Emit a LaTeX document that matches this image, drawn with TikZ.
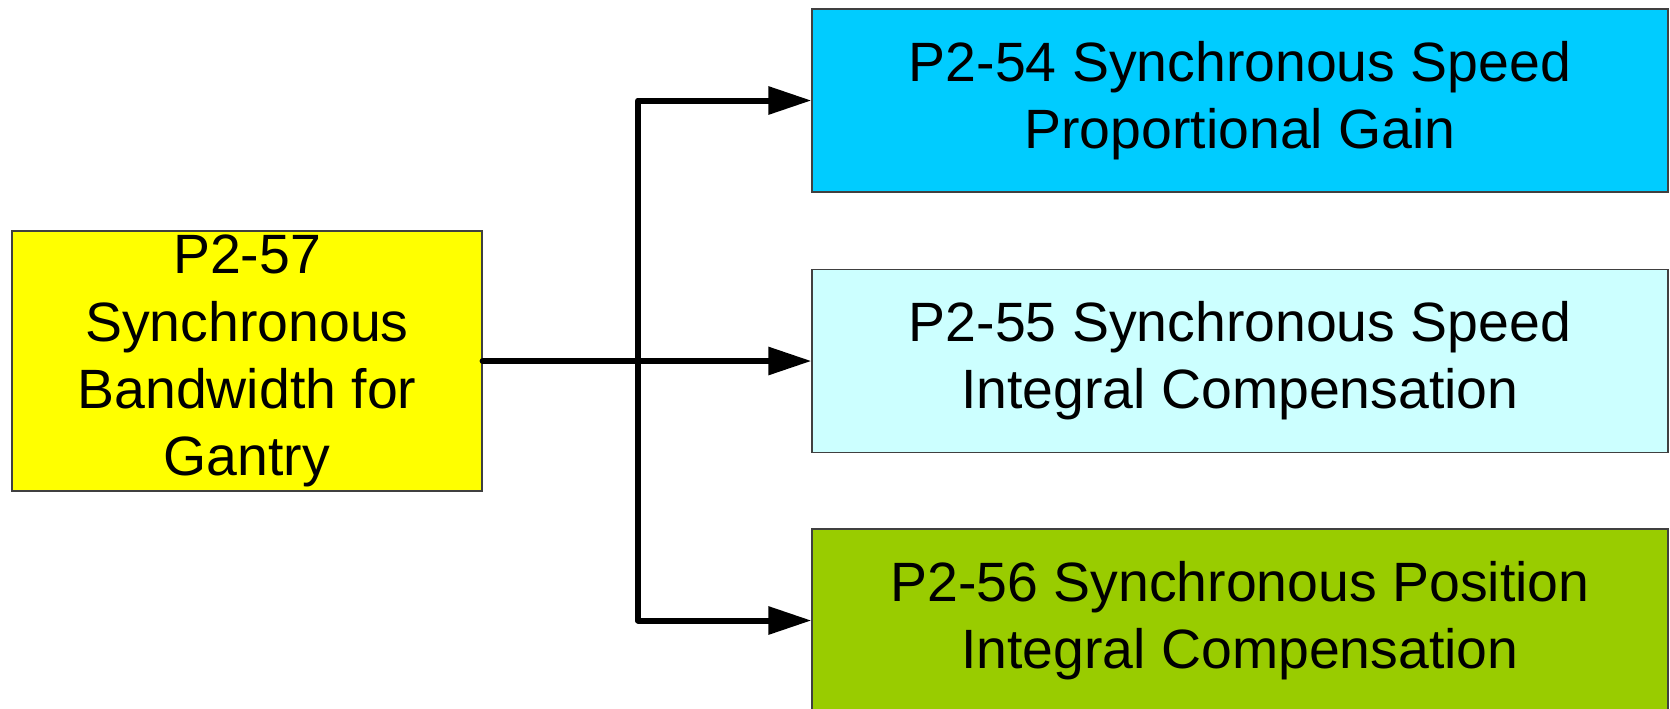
\documentclass[tikz,border=0pt]{standalone}
\usepackage{fontspec}
\setmainfont{Liberation Sans}
\usetikzlibrary{positioning,arrows.meta}
\tikzset{line/.style={draw, line width=3pt, line cap=round, line join=round, -{Triangle[length=21.5pt,width=13.5pt]}}}

\begin{document}
\begin{tikzpicture}[x=0.5pt, y=-0.5pt, 
  main/.style = {draw=black!75, line width=0.6pt, align=center, inner sep=0pt,
    font=\fontsize{27.7}{33.6}\selectfont},
  par/.style = {main, minimum width=428pt, minimum height=91.5pt}]
\useasboundingbox (0,0) rectangle (1670,708);
\node[main,fill={rgb,255:red,255;green,255;blue,0},minimum width=235pt,minimum height=130pt] (gantry) at (247,361) {P2-57\\Synchronous\\Bandwidth for\\Gantry};
\node[par,fill={rgb,255:red,0;green,204;blue,255}] (spdP) at (1240,100.5) {P2-54 Synchronous Speed\\Proportional Gain};
\node[par,fill={rgb,255:red,204;green,255;blue,255}] (spdI) at (1240,361) {P2-55 Synchronous Speed\\Integral Compensation};
\node[par,fill={rgb,255:red,153;green,204;blue,0}] (posI) at (1240,620.5) {P2-56 Synchronous Position\\Integral Compensation};
\coordinate (split) at (638,361);
\draw[line] (gantry) -- (spdI);
\draw[line] (split) |- (spdP);
\draw[line] (split) |- (posI);
\end{tikzpicture}
\end{document}
